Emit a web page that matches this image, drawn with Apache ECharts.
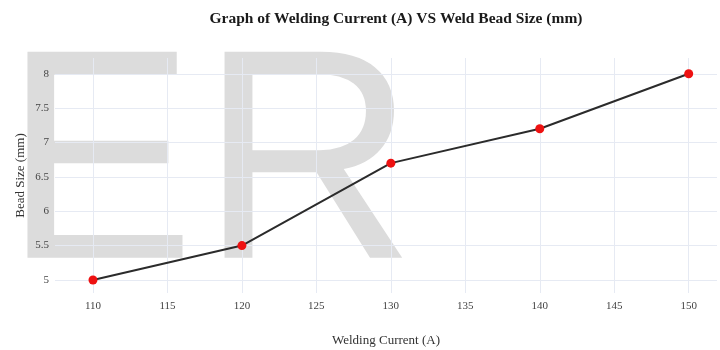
<!DOCTYPE html>
<html>
<head>
<meta charset="utf-8">
<script src="https://cdn.jsdelivr.net/npm/echarts@6/dist/echarts.min.js"></script>
<style>
  html, body { margin: 0; padding: 0; background: #fff; }
  #chart { width: 720px; height: 350px; }
</style>
</head>
<body>
<div id="chart"></div>
<script>
// Welding current (A) against resulting weld bead size (mm)
const currents = [110, 120, 130, 140, 150];
const beadSizes = [5, 5.5, 6.7, 7.2, 8];
const xTicks = [110, 115, 120, 125, 130, 135, 140, 145, 150];
const yTicks = [5, 5.5, 6, 6.5, 7, 7.5, 8];

const serif = '"Liberation Serif", "Times New Roman", serif';
const gridColor = '#e6eaf3';
const markFont = '286px "Liberation Sans", Arial, sans-serif';

const chart = echarts.init(document.getElementById('chart'), null, { renderer: 'canvas' });

chart.setOption({
  backgroundColor: '#ffffff',
  animation: false,
  title: {
    text: 'Graph of Welding Current (A) VS Weld Bead Size (mm)',
    left: 391,
    textAlign: 'center',
    top: 6,
    textStyle: { fontFamily: serif, fontWeight: 'bold', fontSize: 15.5, color: '#1a1a1a' }
  },
  // large grey "ER" mark sitting behind the grid
  graphic: [{
    type: 'text',
    z: -10,
    x: 4,
    y: 25.6,
    scaleX: 1,
    scaleY: 1.046,
    style: { text: 'E', font: markFont, fill: '#dcdcdc' }
  }, {
    type: 'text',
    z: -10,
    x: 200,
    y: 25.6,
    scaleX: 1.046,
    scaleY: 1.046,
    style: { text: 'R', font: markFont, fill: '#dcdcdc' }
  }],
  grid: { left: 55, right: 3, top: 58, bottom: 57, outerBoundsMode: 'none' },
  xAxis: {
    type: 'value',
    min: 107.45,
    max: 151.9,
    name: 'Welding Current (A)',
    nameLocation: 'middle',
    nameGap: 41,
    nameMoveOverlap: false,
    nameTextStyle: { fontFamily: serif, fontSize: 13, color: '#333' },
    axisLine: { show: false },
    axisTick: { show: false, customValues: xTicks },
    axisLabel: { customValues: xTicks, fontFamily: serif, fontSize: 11, color: '#444', margin: 8 },
    splitLine: { show: true, lineStyle: { color: gridColor, width: 1 } }
  },
  yAxis: {
    type: 'value',
    min: 4.81,
    max: 8.23,
    name: 'Bead Size (mm)',
    nameLocation: 'middle',
    nameGap: 28,
    nameRotate: 90,
    nameMoveOverlap: false,
    nameTextStyle: { fontFamily: serif, fontSize: 13, color: '#333' },
    axisLine: { show: false },
    axisTick: { show: false, customValues: yTicks },
    axisLabel: { customValues: yTicks, fontFamily: serif, fontSize: 11, color: '#444', margin: 6 },
    splitLine: { show: true, lineStyle: { color: gridColor, width: 1 } }
  },
  series: [{
    type: 'line',
    data: currents.map((c, i) => [c, beadSizes[i]]),
    symbol: 'circle',
    symbolSize: 9,
    lineStyle: { color: '#2b2b2b', width: 2 },
    itemStyle: { color: '#ee1111', borderWidth: 0 }
  }]
});
</script>
</body>
</html>
